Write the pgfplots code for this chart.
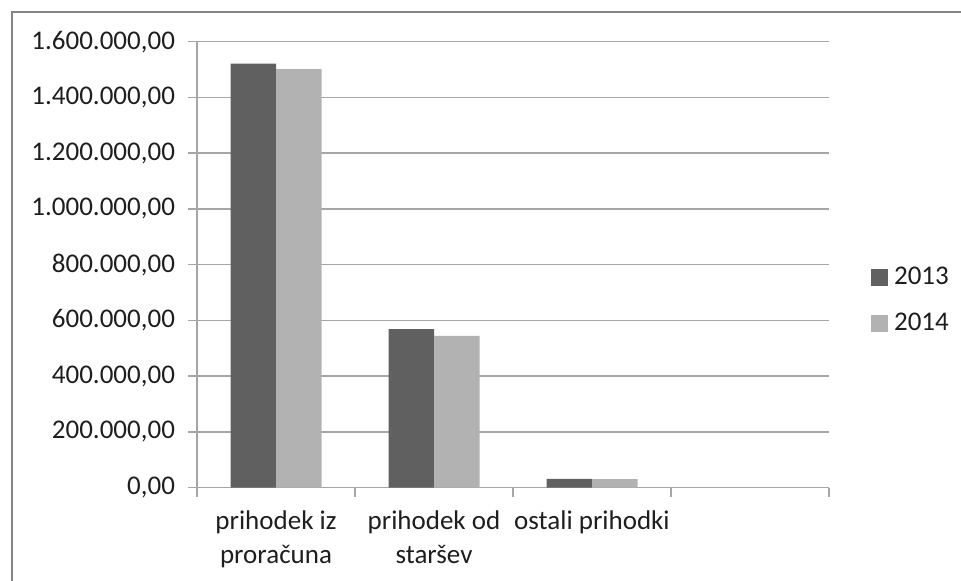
\documentclass[border=0pt]{standalone}
\usepackage{pgfplots}
\pgfplotsset{compat=1.18}
\usepackage{fontspec}
\setmainfont{Carlito}
\definecolor{darkbar}{HTML}{606060}
\definecolor{lightbar}{HTML}{B2B2B2}
\definecolor{gridc}{HTML}{A6A6A6}
\definecolor{framec}{HTML}{858585}
\definecolor{txt}{HTML}{1E1E1E}
\begin{document}
\begin{tikzpicture}
\useasboundingbox (0pt,0pt) rectangle (480.5pt,290.5pt);
\draw[framec, line width=1pt] (6pt,-5pt) -- (6pt,284.5pt) -- (490pt,284.5pt);
\begin{axis}[
  at={(98.5pt,46.65pt)}, anchor=south west,
  scale only axis, width=316pt, height=223pt,
  ybar=0pt, bar width=22.75pt,
  every axis plot post/.append style={legend image code/.code={\fill[##1] (0pt,-4.25pt) rectangle (8.5pt,4.25pt);}},
  xmin=-0.5, xmax=3.5, ymin=0, ymax=1600000,
  axis x line*=bottom, axis y line*=left,
  axis line style={gridc, line width=0.75pt, -},
  tick style={gridc, line width=0.75pt},
  tick align=outside, major tick length=4.5pt,
  xtick={-0.5,0.5,1.5,2.5,3.5}, xticklabels={},
  extra x ticks={0,1,2},
  extra x tick labels={{prihodek iz\\proračuna},{prihodek od\\staršev},{ostali prihodki}},
  extra x tick style={major tick length=0pt, xticklabel style={yshift=-8pt}},
  xticklabel style={align=center, font=\fontsize{13.5pt}{16.8pt}\selectfont, text=txt},
  ytick distance=200000,
  scaled y ticks=false,
  yticklabel style={font=\fontsize{13.5pt}{16pt}\selectfont, text=txt, xshift=-3pt,
    /pgf/number format/.cd, fixed, fixed zerofill, precision=2, use comma, 1000 sep={.}, assume math mode=true},
  ymajorgrids, grid style={gridc, line width=0.75pt},
  legend style={at={(1.066,0.42)}, anchor=west, draw=none, fill=none,
    font=\fontsize{13.5pt}{16pt}\selectfont, text=txt, row sep=9pt,
    inner xsep=0pt, nodes={inner xsep=3pt}},
  legend cell align=left,
]
\addplot[fill=darkbar, draw=none] coordinates {(0,1521000) (1,569000) (2,32000)};
\addplot[fill=lightbar, draw=none] coordinates {(0,1502000) (1,545000) (2,31000)};
\legend{2013,2014}
\end{axis}
\end{tikzpicture}
\end{document}
